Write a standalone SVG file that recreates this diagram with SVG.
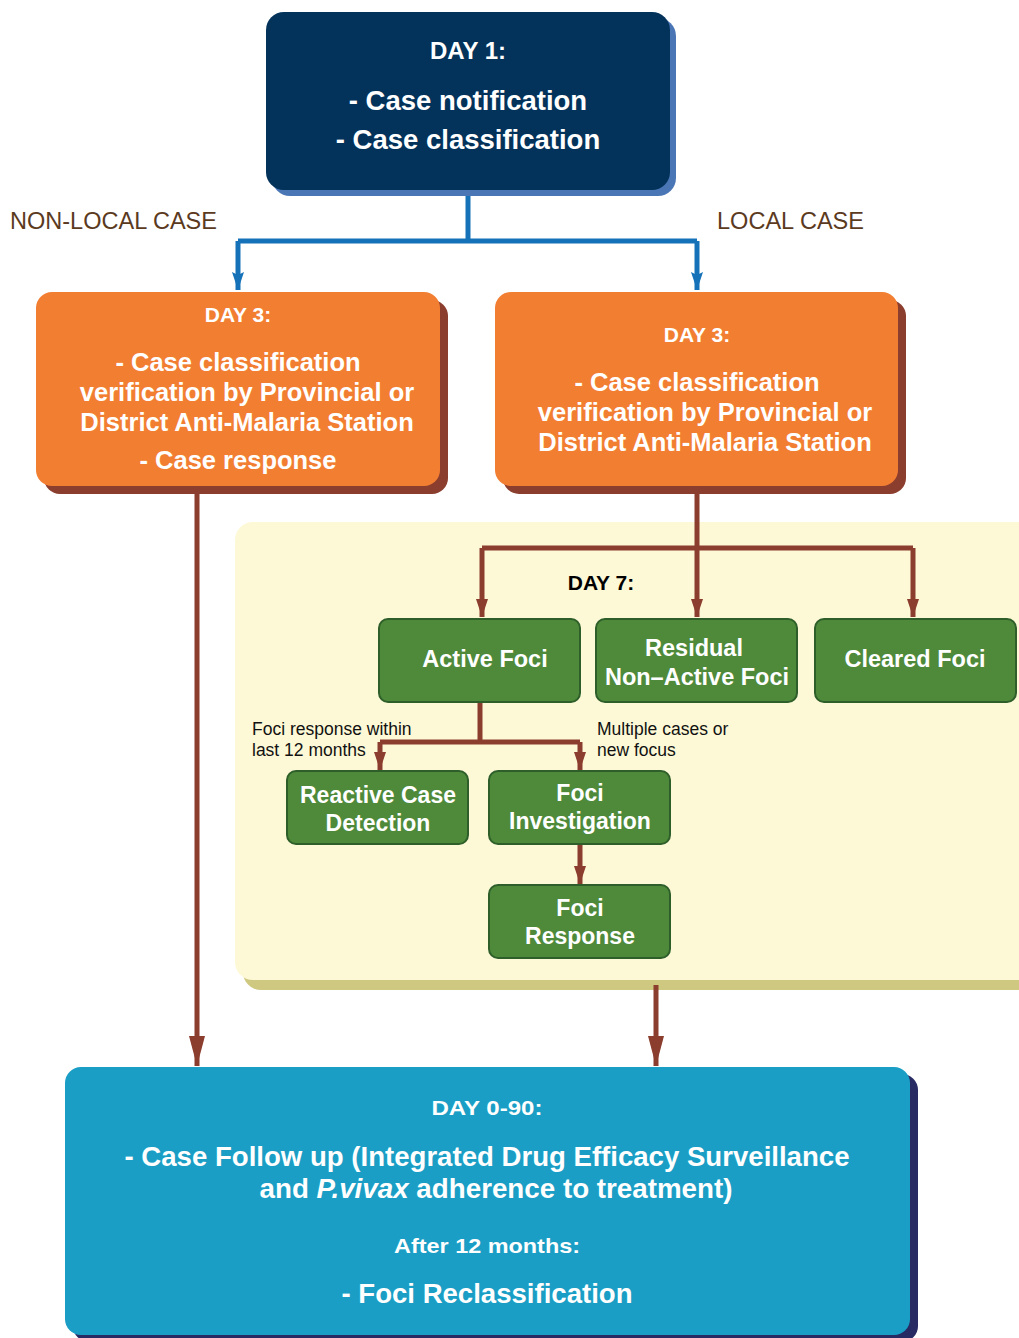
<svg xmlns="http://www.w3.org/2000/svg" width="1019" height="1338" viewBox="0 0 1019 1338">
<style>
.t{font-family:"Liberation Sans",Arial,sans-serif;font-weight:bold;fill:#fff;text-anchor:middle}
.lbl{font-family:"Liberation Sans",Arial,sans-serif;fill:#5b3a1e;font-size:23px}
.note{font-family:"Liberation Sans",Arial,sans-serif;fill:#111;font-size:17.5px}
.green{fill:#4e8a3a;stroke:#2e5f2a;stroke-width:2}
.bl{fill:none;stroke:#1572b9;stroke-width:5}
.br{fill:none;stroke:#8b3d2e;stroke-width:5}
</style>
<defs>
<marker id="aBlue" markerUnits="userSpaceOnUse" markerWidth="18" markerHeight="12" refX="18" refY="6" viewBox="0 0 18 12" orient="auto"><path d="M0,0 L18,6 L0,12 L3,6 Z" fill="#1572b9"/></marker>
<marker id="aBr" markerUnits="userSpaceOnUse" markerWidth="30" markerHeight="16" refX="30" refY="8" viewBox="0 0 30 16" orient="auto"><path d="M0,0 L30,8 L0,16 Z" fill="#8b3d2e"/></marker>
<marker id="aBrS" markerUnits="userSpaceOnUse" markerWidth="18" markerHeight="12" refX="18" refY="6" viewBox="0 0 18 12" orient="auto"><path d="M0,0 L18,6 L0,12 Z" fill="#8b3d2e"/></marker>
</defs>
<rect width="1019" height="1338" fill="#fff"/>

<g id="panel-day7">
<rect x="243" y="532" width="800" height="458" rx="18" fill="#cfc880"/>
<rect x="235" y="522" width="800" height="458" rx="18" fill="#fdf9d6"/>
<text x="601" y="590" style="font-family:'Liberation Sans',Arial,sans-serif;font-weight:bold;font-size:21px;fill:#000;text-anchor:middle">DAY 7:</text>
</g>

<g id="connectors">
<path class="bl" d="M468,190 V241"/>
<path class="bl" d="M238,241 H697"/>
<path class="bl" d="M238,241 V290" marker-end="url(#aBlue)"/>
<path class="bl" d="M697,241 V290" marker-end="url(#aBlue)"/>
<path class="br" d="M197,487 V1066" marker-end="url(#aBr)"/>
<path class="br" d="M697,490 V548"/>
<path class="br" d="M482,548 H913"/>
<path class="br" d="M482,548 V617" marker-end="url(#aBrS)"/>
<path class="br" d="M697,548 V617" marker-end="url(#aBrS)"/>
<path class="br" d="M913,548 V617" marker-end="url(#aBrS)"/>
<path class="br" d="M480,702 V742"/>
<path class="br" d="M380,742 H580"/>
<path class="br" d="M380,742 V770" marker-end="url(#aBrS)"/>
<path class="br" d="M580,742 V770" marker-end="url(#aBrS)"/>
<path class="br" d="M580,844 V884" marker-end="url(#aBrS)"/>
<path class="br" d="M656,985 V1066" marker-end="url(#aBr)"/>
</g>

<g id="labels">
<text class="lbl" x="10" y="229" textLength="207" lengthAdjust="spacingAndGlyphs">NON-LOCAL CASE</text>
<text class="lbl" x="717" y="229" textLength="147" lengthAdjust="spacingAndGlyphs">LOCAL CASE</text>
<text class="note" x="252" y="735">Foci response within</text>
<text class="note" x="252" y="756">last 12 months</text>
<text class="note" x="597" y="735">Multiple cases or</text>
<text class="note" x="597" y="756">new focus</text>
</g>

<g id="day1">
<rect x="272" y="18" width="404" height="178" rx="18" fill="#4a76b6"/>
<rect x="266" y="12" width="404" height="178" rx="18" fill="#03325a"/>
<text class="t" x="468" y="59" font-size="24">DAY 1:</text>
<text class="t" x="468" y="110" font-size="27.5">- Case notification</text>
<text class="t" x="468" y="149" font-size="27.5">- Case classification</text>
</g>

<g id="day3-nonlocal">
<rect x="44" y="300" width="404" height="194" rx="16" fill="#8b3d2e"/>
<rect x="36" y="292" width="404" height="194" rx="16" fill="#f27e32"/>
<text class="t" x="238" y="322" font-size="21">DAY 3:</text>
<text class="t" x="238" y="371" font-size="25.5">- Case classification</text>
<text class="t" x="247" y="401" font-size="25.5">verification by Provincial or</text>
<text class="t" x="247" y="431" font-size="25.5">District Anti-Malaria Station</text>
<text class="t" x="238" y="469" font-size="25.5">- Case response</text>
</g>

<g id="day3-local">
<rect x="503" y="300" width="403" height="194" rx="16" fill="#8b3d2e"/>
<rect x="495" y="292" width="403" height="194" rx="16" fill="#f27e32"/>
<text class="t" x="697" y="342" font-size="21">DAY 3:</text>
<text class="t" x="697" y="391" font-size="25.5">- Case classification</text>
<text class="t" x="705" y="421" font-size="25.5">verification by Provincial or</text>
<text class="t" x="705" y="451" font-size="25.5">District Anti-Malaria Station</text>
</g>

<g id="active-foci">
<rect class="green" x="379" y="619" width="201" height="83" rx="9"/>
<text class="t" x="485" y="667" font-size="23.5">Active Foci</text>
</g>
<g id="residual-foci">
<rect class="green" x="596" y="619" width="201" height="83" rx="9"/>
<text class="t" x="694" y="656" font-size="23.5">Residual</text>
<text class="t" x="697" y="685" font-size="23.5">Non–Active Foci</text>
</g>
<g id="cleared-foci">
<rect class="green" x="815" y="619" width="201" height="83" rx="9"/>
<text class="t" x="915" y="667" font-size="23.5">Cleared Foci</text>
</g>
<g id="reactive-case-detection">
<rect class="green" x="287" y="771" width="181" height="73" rx="9"/>
<text class="t" x="378" y="803" font-size="23">Reactive Case</text>
<text class="t" x="378" y="831" font-size="23">Detection</text>
</g>
<g id="foci-investigation">
<rect class="green" x="489" y="771" width="181" height="73" rx="9"/>
<text class="t" x="580" y="801" font-size="23">Foci</text>
<text class="t" x="580" y="829" font-size="23">Investigation</text>
</g>
<g id="foci-response">
<rect class="green" x="489" y="885" width="181" height="73" rx="9"/>
<text class="t" x="580" y="916" font-size="23">Foci</text>
<text class="t" x="580" y="944" font-size="23">Response</text>
</g>

<g id="day0-90">
<rect x="73" y="1074" width="845" height="268" rx="16" fill="#272a63"/>
<rect x="65" y="1067" width="845" height="268" rx="16" fill="#1a9ec5"/>
<text class="t" x="487" y="1115" font-size="21" textLength="111" lengthAdjust="spacingAndGlyphs">DAY 0-90:</text>
<text class="t" x="487" y="1166" font-size="27" textLength="725" lengthAdjust="spacingAndGlyphs">- Case Follow up (Integrated Drug Efficacy Surveillance</text>
<text class="t" x="496" y="1198" font-size="27" textLength="473" lengthAdjust="spacingAndGlyphs">and <tspan font-style="italic">P.vivax</tspan> adherence to treatment)</text>
<text class="t" x="487" y="1253" font-size="21" textLength="186" lengthAdjust="spacingAndGlyphs">After 12 months:</text>
<text class="t" x="487" y="1303" font-size="27" textLength="291" lengthAdjust="spacingAndGlyphs">- Foci Reclassification</text>
</g>
</svg>
